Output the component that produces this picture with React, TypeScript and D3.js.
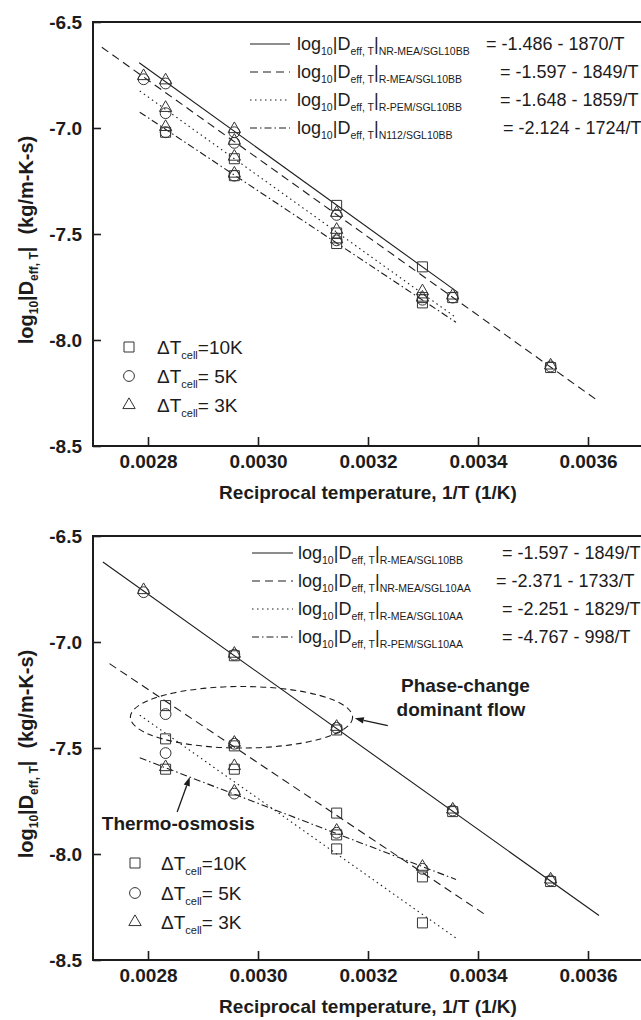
import React, { useEffect, useRef } from 'react'
import * as d3 from 'd3'

const width = 641
const height = 1020
const font = '"Liberation Sans", Arial, Helvetica, sans-serif'
const ink = '#1c1c1c'

// 1/T (1/K) of the cell temperatures 85, 80, 65, 45, 30, 25, 10 C
const x85 = 0.002792
const x80 = 0.002832
const x65 = 0.002957
const x45 = 0.003143
const x30 = 0.003299
const x25 = 0.003354
const x10 = 0.003532

const xTicks = [0.0028, 0.003, 0.0032, 0.0034, 0.0036]
const yTicks = [-8.5, -8.0, -7.5, -7.0, -6.5]

// fitted lines, log10|D| = a - b/T, drawn from..to (1/T)
const topFitLabels = ['NR-MEA/SGL10BB', 'R-MEA/SGL10BB', 'R-PEM/SGL10BB', 'N112/SGL10BB']
const topFitA = [-1.486, -1.597, -1.648, -2.124]
const topFitB = [1870, 1849, 1859, 1724]
const topFitFrom = [0.002784, 0.002716, 0.002785, 0.002785]
const topFitTo = [0.003364, 0.00362, 0.00336, 0.00336]

const botFitLabels = ['R-MEA/SGL10BB', 'NR-MEA/SGL10AA', 'R-MEA/SGL10AA', 'R-PEM/SGL10AA']
const botFitA = [-1.597, -2.371, -2.251, -4.767]
const botFitB = [1849, 1733, 1829, 998]
const botFitFrom = [0.002718, 0.00273, 0.002785, 0.002785]
const botFitTo = [0.00362, 0.003413, 0.00336, 0.00336]

// measured points, [1/T, log10|D|]
const topSquares = [
  [x80, -7.02], [x65, -7.145], [x65, -7.225], [x45, -7.365], [x45, -7.495], [x45, -7.545],
  [x30, -7.655], [x30, -7.8], [x30, -7.825], [x25, -7.8], [x10, -8.13],
]
const topCircles = [
  [x85, -6.77], [x80, -6.79], [x80, -6.93], [x80, -7.02], [x65, -7.02], [x65, -7.07],
  [x65, -7.225], [x45, -7.41], [x45, -7.53], [x30, -7.81], [x25, -7.8], [x10, -8.125],
]
const topTriangles = [
  [x85, -6.755], [x80, -6.775], [x80, -6.905], [x80, -6.995], [x65, -7.005], [x65, -7.06],
  [x65, -7.135], [x65, -7.215], [x45, -7.4], [x45, -7.48], [x45, -7.525], [x30, -7.77],
  [x30, -7.8], [x25, -7.79], [x10, -8.12],
]

const botSquares = [
  [x65, -7.065], [x45, -7.415], [x25, -7.8], [x10, -8.13],
  [x80, -7.3], [x80, -7.457], [x80, -7.6], [x65, -7.49], [x65, -7.6],
  [x45, -7.807], [x45, -7.91], [x45, -7.976], [x30, -8.108], [x30, -8.325],
]
const botCircles = [
  [x85, -6.765], [x65, -7.06], [x45, -7.405], [x25, -7.795], [x10, -8.125],
  [x80, -7.34], [x80, -7.524], [x65, -7.48], [x65, -7.715], [x45, -7.9], [x30, -8.07],
]
const botTriangles = [
  [x85, -6.755], [x65, -7.055], [x45, -7.4], [x25, -7.79], [x10, -8.12],
  [x80, -7.59], [x65, -7.475], [x65, -7.585], [x65, -7.705], [x45, -7.89], [x30, -8.06],
]

const cellLabels = ['=10K', '= 5K', '= 3K']

// annotations (data units)
const phaseEllipse = { cx: 0.00297, cy: -7.355, rx: 0.000202, ry: 0.145 }
const phaseArrow = [[0.003236, -7.395], [0.003176, -7.36]]
const thermoArrow = [[0.002853, -7.802], [0.002876, -7.637]]
const phaseText = [['Phase-change', 0.00326, -7.237], ['dominant flow', 0.003252, -7.35]]
const thermoText = ['Thermo-osmosis', 0.002716, -7.887]

// layout
const plotLeft = 93
const plotRight = 643
const plotHeight = 424
const panelTop = [22, 536]
const dashes = ['none', '8,5', '1.5,3.5', '7,3,1.5,3']
const legendRows = [[22, 50, 78, 106], [17, 45, 73, 101]]
const legendLineX = [[250, 290], [252, 293]]
const legendTextX = [297, 298]
const legendEqX = [[486, 500, 500, 503], [502, 496, 502, 502]]
const keyRows = [[325, 354, 383], [327, 357, 386]]
const keyMarkX = [129, 135]
const keyTextX = [157, 161]

const panels = [
  { labels: topFitLabels, a: topFitA, b: topFitB, from: topFitFrom, to: topFitTo,
    squares: topSquares, circles: topCircles, triangles: topTriangles },
  { labels: botFitLabels, a: botFitA, b: botFitB, from: botFitFrom, to: botFitTo,
    squares: botSquares, circles: botCircles, triangles: botTriangles },
]

const symSquare = d3.symbol().type(d3.symbolSquare).size(100)
const symCircle = d3.symbol().type(d3.symbolCircle).size(92)
const symTriangle = d3.symbol().type(d3.symbolTriangle).size(66)

function fitLabel(g, x, yb, sub) {
  const t = g.append('text')
    .attr('x', x).attr('y', yb)
    .attr('font-family', font).attr('font-size', 18).attr('fill', ink)
  t.append('tspan').text('log')
  t.append('tspan').attr('font-size', 10.5).attr('dy', 5).text('10')
  t.append('tspan').attr('dy', -5).text('|D')
  t.append('tspan').attr('font-size', 10.5).attr('dy', 5).text('eff, T')
  t.append('tspan').attr('dy', -5).text('|')
  t.append('tspan').attr('font-size', 10.5).attr('dy', 5).text(sub)
}

function arrow(g, x, y, pts) {
  const [x0, y0] = [x(pts[0][0]), y(pts[0][1])]
  const [x1, y1] = [x(pts[1][0]), y(pts[1][1])]
  const ang = Math.atan2(y1 - y0, x1 - x0)
  const len = 9, hw = 3.2
  const bx = x1 - len * Math.cos(ang), by = y1 - len * Math.sin(ang)
  g.append('line')
    .attr('x1', x0).attr('y1', y0).attr('x2', bx).attr('y2', by)
    .attr('stroke', ink).attr('stroke-width', 1.3)
  g.append('path')
    .attr('d', `M${x1},${y1}L${bx - hw * Math.sin(ang)},${by + hw * Math.cos(ang)}L${bx + hw * Math.sin(ang)},${by - hw * Math.cos(ang)}Z`)
    .attr('fill', ink)
}

function drawPanel(svg, i) {
  const p = panels[i]
  const top = panelTop[i]
  const bottom = top + plotHeight
  const x = d3.scaleLinear().domain([0.0027, 0.0037]).range([plotLeft, plotRight])
  const y = d3.scaleLinear().domain([-8.5, -6.5]).range([bottom, top])
  const g = svg.append('g')

  // fitted lines
  p.labels.forEach((_, k) => {
    const pts = [p.from[k], p.to[k]].map((v) => [v, p.a[k] - p.b[k] * v])
    g.append('path')
      .attr('d', d3.line().x((d) => x(d[0])).y((d) => y(d[1]))(pts))
      .attr('fill', 'none')
      .attr('stroke', ink)
      .attr('stroke-width', 1.1)
      .attr('stroke-dasharray', dashes[k])
  })

  // markers
  const marks = [[p.squares, symSquare], [p.circles, symCircle], [p.triangles, symTriangle]]
  marks.forEach(([data, sym]) => {
    g.append('g').selectAll('path')
      .data(data)
      .enter().append('path')
      .attr('d', sym)
      .attr('transform', (d) => `translate(${x(d[0])},${y(d[1])})`)
      .attr('fill', 'none')
      .attr('stroke', '#333')
      .attr('stroke-width', 1)
  })

  // axes
  const yAxis = d3.axisLeft(y).tickValues(yTicks).tickFormat((d) => d.toFixed(1))
    .tickSizeInner(-8).tickSizeOuter(0).tickPadding(11)
  const xAxis = d3.axisBottom(x).tickValues(xTicks).tickFormat((d) => d.toFixed(4))
    .tickSizeInner(-9).tickSizeOuter(0).tickPadding(9)
  const ya = g.append('g').attr('transform', `translate(${plotLeft},0)`).call(yAxis)
  const xa = g.append('g').attr('transform', `translate(0,${bottom})`).call(xAxis)
  ;[ya, xa].forEach((a) => {
    a.select('.domain').remove()
    a.selectAll('line').attr('stroke', ink).attr('stroke-width', 1.6)
    a.selectAll('text')
      .attr('font-family', font).attr('font-size', 19).attr('font-weight', 'bold').attr('fill', ink)
  })

  g.append('rect')
    .attr('x', plotLeft).attr('y', top)
    .attr('width', plotRight - plotLeft).attr('height', plotHeight)
    .attr('fill', 'none').attr('stroke', ink).attr('stroke-width', 2)

  // axis titles
  g.append('text')
    .attr('x', (plotLeft + plotRight) / 2).attr('y', bottom + 53)
    .attr('text-anchor', 'middle')
    .attr('font-family', font).attr('font-size', 19).attr('font-weight', 'bold').attr('fill', ink)
    .text('Reciprocal temperature, 1/T (1/K)')

  const yt = g.append('text')
    .attr('transform', `translate(33,${(top + bottom) / 2 + 6}) rotate(-90)`)
    .attr('text-anchor', 'middle')
    .attr('font-family', font).attr('font-size', 20).attr('font-weight', 'bold').attr('fill', ink)
  yt.append('tspan').text('log')
  yt.append('tspan').attr('font-size', 12).attr('dy', 5).text('10')
  yt.append('tspan').attr('dy', -5).text('|D')
  yt.append('tspan').attr('font-size', 12).attr('dy', 5).text('eff, T')
  yt.append('tspan').attr('dy', -5).text('|')
  yt.append('tspan').attr('dx', 12).text('(kg/m-K-s)')

  // fit legend
  p.labels.forEach((lab, k) => {
    const ry = top + legendRows[i][k]
    g.append('line')
      .attr('x1', legendLineX[i][0]).attr('x2', legendLineX[i][1])
      .attr('y1', ry).attr('y2', ry)
      .attr('stroke', ink).attr('stroke-width', 1.1).attr('stroke-dasharray', dashes[k])
    fitLabel(g, legendTextX[i], ry + 6, lab)
    g.append('text')
      .attr('x', legendEqX[i][k]).attr('y', ry + 6)
      .attr('font-family', font).attr('font-size', 18).attr('fill', ink)
      .text(`= ${p.a[k].toFixed(3)} - ${p.b[k]}/T`)
  })

  // marker key
  const keySyms = [symSquare, symCircle, symTriangle]
  cellLabels.forEach((lab, k) => {
    const ry = top + keyRows[i][k]
    g.append('path')
      .attr('d', keySyms[k])
      .attr('transform', `translate(${keyMarkX[i]},${ry})`)
      .attr('fill', 'none').attr('stroke', '#333').attr('stroke-width', 1)
    const t = g.append('text')
      .attr('x', keyTextX[i]).attr('y', ry + 7)
      .attr('font-family', font).attr('font-size', 19).attr('fill', ink)
    t.append('tspan').text('\u0394T')
    t.append('tspan').attr('font-size', 11).attr('dy', 5).text('cell')
    t.append('tspan').attr('dy', -5).text(lab)
  })

  if (i === 1) {
    g.append('ellipse')
      .attr('cx', x(phaseEllipse.cx)).attr('cy', y(phaseEllipse.cy))
      .attr('rx', x(phaseEllipse.cx + phaseEllipse.rx) - x(phaseEllipse.cx))
      .attr('ry', y(phaseEllipse.cy - phaseEllipse.ry) - y(phaseEllipse.cy))
      .attr('fill', 'none').attr('stroke', ink).attr('stroke-width', 1.1)
      .attr('stroke-dasharray', '6,4')
    arrow(g, x, y, phaseArrow)
    arrow(g, x, y, thermoArrow)
    phaseText.forEach(([s, tx, ty]) => {
      g.append('text')
        .attr('x', x(tx)).attr('y', y(ty))
        .attr('font-family', font).attr('font-size', 19).attr('font-weight', 'bold').attr('fill', ink)
        .text(s)
    })
    g.append('text')
      .attr('x', x(thermoText[1])).attr('y', y(thermoText[2]))
      .attr('font-family', font).attr('font-size', 19).attr('font-weight', 'bold').attr('fill', ink)
      .text(thermoText[0])
  }
}

export default function App() {
  const ref = useRef<SVGSVGElement>(null)

  useEffect(() => {
    const svg = d3.select(ref.current)
    svg.selectAll('*').remove()
    panels.forEach((_, i) => drawPanel(svg, i))
  }, [])

  return (
    <div style={{ position: 'absolute', left: 0, top: 0 }}>
      <svg ref={ref} width={width} height={height} style={{ display: 'block', background: '#fff' }} />
    </div>
  )
}
